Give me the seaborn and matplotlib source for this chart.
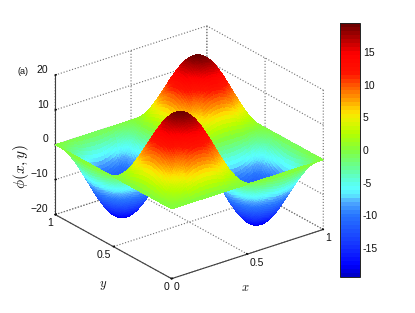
import numpy as np
import matplotlib
matplotlib.use("Agg")
import matplotlib.pyplot as plt
from matplotlib.colors import Normalize, LinearSegmentedColormap
from matplotlib.cm import ScalarMappable
import seaborn as sns

sns.set_theme(style="white")
plt.rcParams['font.family'] = ['Liberation Sans', 'DejaVu Sans']
plt.rcParams['mathtext.fontset'] = 'cm'

# Half-period cross-section of the surface (peak-normalised)
half_profile = [0.000,0.052,0.105,0.156,0.208,0.259,0.309,0.358,0.407,0.454,0.500,0.545,0.588,0.629,0.669,
                0.707,0.743,0.777,0.809,0.839,0.866,0.891,0.914,0.934,0.951,0.966,0.978,0.988,0.995,0.999,
                1.000,0.999,0.995,0.988,0.978,0.966,0.951,0.934,0.914,0.891,0.866,0.839,0.809,0.777,0.743,
                0.707,0.669,0.629,0.588,0.545,0.500,0.454,0.407,0.358,0.309,0.259,0.208,0.156,0.105,0.052,0.000]
peak = 19.5
xy_ticks = [0, 0.5, 1]
xy_ticklabels = ['0', '0.5', '1']
z_ticks = [-20, -10, 0, 10, 20]
cbar_ticks = [-15, -10, -5, 0, 5, 10, 15]

# Colour scale: value, RGB
scale_values = [-19.5, -18, -15, -10, -8, -7, -6, -5, -3, 0, 2.5, 5, 6, 8, 10, 12, 15, 17, 19.5]
scale_colors = ['#0000c8', '#0000ff', '#1432ff', '#2878ff', '#50aaff', '#5ae6ff', '#5affff', '#5affe6', '#64ff9f',
                '#82ff3c', '#b4ff00', '#f0f000', '#ffdc00', '#ff9600', '#ff5a00', '#ff1400', '#ff0000',
                '#be0000', '#6e0000']

h = np.array(half_profile)
p = np.concatenate([h, -h[1:]])
coords = np.linspace(0, 1, len(p))
X, Y = np.meshgrid(coords, coords)
Z = peak * np.outer(p, p)

norm = Normalize(-peak, peak)
stops = [float(norm(v)) for v in scale_values]
cmap_fine = LinearSegmentedColormap.from_list('ref', list(zip(stops, scale_colors)), N=256)
cmap64 = cmap_fine.resampled(64)

fig = plt.figure(figsize=(4.15, 3.13), dpi=100)
ax = fig.add_axes([-22.5/415, 0.0, 1.0, 1.0], projection='3d', proj_type='ortho')
ax.patch.set_alpha(0)
ax.view_init(elev=25, azim=-127.5)
ax.set_box_aspect((1, 1, 0.805), zoom=0.965)
ax.set_xlim(0, 1, view_margin=0)
ax.set_ylim(0, 1, view_margin=0)
ax.set_zlim(-20, 20, view_margin=0)
ax.plot_surface(X, Y, Z, facecolors=cmap_fine(norm(Z)), rstride=1, cstride=1,
                linewidth=0, antialiased=False, shade=False)

ax.set_xticks(xy_ticks, xy_ticklabels)
ax.set_yticks(xy_ticks, xy_ticklabels)
ax.set_zticks(z_ticks)
for axis in (ax.xaxis, ax.yaxis, ax.zaxis):
    axis.set_pane_color((1, 1, 1, 0))
    axis.pane.set_edgecolor((1, 1, 1, 0))
    axis._axinfo['grid'].update(color='#707070', linestyle=':', linewidth=0.8)
    axis._axinfo['tick'].update(color='#333333', inward_factor=0.0, outward_factor=0.08)
    axis.line.set_color('#404040')
    axis.line.set_linewidth(0.8)
    axis.set_tick_params(labelsize=7.5, colors='#111111', pad=-6)
ax.zaxis.set_tick_params(pad=-5)
ax.zaxis.set_ticks_position('upper')
for lab in ax.get_xticklabels():
    lab.set_ha('left')
for lab in ax.get_yticklabels():
    lab.set_ha('right')
for lab in ax.get_zticklabels():
    lab.set_ha('right')
    lab.set_va('bottom')
ax.grid(True)

ax.text2D(245/415, 1-288/313, '$x$', transform=fig.transFigure, fontsize=9, ha='center', va='center', color='#111111')
ax.text2D(103/415, 1-285/313, '$y$', transform=fig.transFigure, fontsize=9, ha='center', va='center', color='#111111')
ax.text2D(21/415, 1-167/313, r'$\phi(x,y)$', transform=fig.transFigure, fontsize=11, rotation=90,
          ha='center', va='center', color='#111111')

fig.text(17/415, 1-72/313, '(a)', fontsize=6.5, color='#111111', va='center')

cax = fig.add_axes([340/415, 1-277/313, 20/415, 254/313])
cb = fig.colorbar(ScalarMappable(norm=norm, cmap=cmap64), cax=cax, ticks=cbar_ticks)
cb.ax.tick_params(labelsize=7.5, length=2, direction='in', pad=2, width=0.6, color='#222222', labelcolor='#111111', right=True, left=True)
cb.ax.set_yticklabels([str(t) for t in cbar_ticks])
cb.outline.set_linewidth(0.7)
cb.outline.set_edgecolor('#222222')

fig.savefig('out.png', dpi=100)
